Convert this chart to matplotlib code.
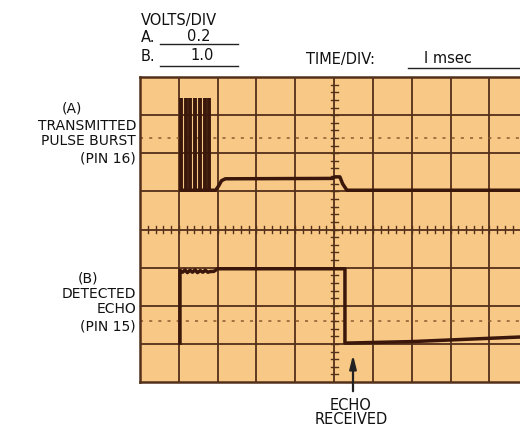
import matplotlib
matplotlib.use("Agg")
import matplotlib.pyplot as plt

# screen: 10 x 8 divisions, right part cropped off
n_xdiv, n_ydiv = 10, 8
x_visible = 9.79
dotted_levels = [1.6, 6.4]

# trace A - transmitted pulse burst (divisions)
burst_x = [1.06, 1.18, 1.30, 1.42, 1.55, 1.67, 1.79]
burst_top = 7.45
a_base = 5.03
a_x = [1.85, 1.95, 2.03, 2.10, 2.20, 4.95, 5.02, 5.15, 5.22, 5.33, 9.79]
a_y = [5.03, 5.03, 5.15, 5.28, 5.33, 5.34, 5.38, 5.38, 5.20, 5.03, 5.03]

# trace B - detected echo (divisions)
b_x = [1.03, 1.03, 1.10, 1.16, 1.22, 1.29, 1.35, 1.42, 1.48, 1.55, 1.62, 1.68,
       1.75, 1.82, 1.90, 2.00, 5.28, 5.28, 7.0, 9.79]
b_y = [1.02, 2.93, 2.88, 2.94, 2.87, 2.93, 2.88, 2.94, 2.87, 2.92, 2.88, 2.93,
       2.88, 2.90, 2.90, 2.97, 2.97, 1.02, 1.06, 1.18]

bg = "#f8c886"
grid_c = "#53301a"
trace_c = "#3a170a"

fig = plt.figure(figsize=(5.2, 4.28), dpi=100)
fig.patch.set_facecolor("white")
ax = fig.add_axes([140 / 520, 46 / 428, 380 / 520, 305 / 428])
ax.set_facecolor(bg)
ax.set_xlim(0, x_visible)
ax.set_ylim(0, n_ydiv)
ax.set_xticks([])
ax.set_yticks([])
for side in ["left", "top", "bottom"]:
    ax.spines[side].set_color(grid_c)
    ax.spines[side].set_linewidth(1.8)
ax.spines["right"].set_visible(False)

# graticule
for i in range(1, n_xdiv):
    ax.axvline(i, color=grid_c, lw=1.3, zorder=1)
for j in range(1, n_ydiv):
    ax.axhline(j, color=grid_c, lw=1.3, zorder=1)
for lv in dotted_levels:
    ax.axhline(lv, color="#8b5a2e", lw=1.1, ls=(0, (2, 4)), zorder=1)

# minor ticks on centre lines
k = 1
while k * 0.2 < x_visible:
    ax.plot([k * 0.2, k * 0.2], [3.91, 4.09], color=grid_c, lw=1.0, zorder=1)
    k += 1
for k in range(1, 40):
    ax.plot([4.91, 5.09], [k * 0.2, k * 0.2], color=grid_c, lw=1.0, zorder=1)

# trace A: burst bars, then the rest of the sweep
for x in burst_x:
    ax.plot([x, x], [a_base, burst_top], color=trace_c, lw=2.8, zorder=3,
            solid_capstyle="butt")
ax.plot([burst_x[0]] + a_x, [a_base] + a_y, color=trace_c, lw=2.5, zorder=3)

# trace B
ax.plot(b_x, b_y, color=trace_c, lw=2.5, zorder=3)


def ftext(x, y, s, ha="left", size=10.5):
    fig.text(x / 520, 1 - y / 428, s, ha=ha, va="baseline", fontsize=size,
             family="DejaVu Sans", color="#111111")


def uline(x0, x1, y):
    fig.add_artist(plt.Line2D([x0 / 520, x1 / 520], [1 - y / 428, 1 - y / 428],
                              color="#222222", lw=1.0))


ftext(141, 25, "VOLTS/DIV")
ftext(141, 42, "A.")
ftext(199, 41, "0.2", ha="center")
uline(160, 238, 44)
ftext(141, 61, "B.")
ftext(202, 60, "1.0", ha="center")
uline(160, 238, 66)
ftext(306, 64, "TIME/DIV:")
ftext(424, 63, "I msec")
uline(408, 520, 68)

ftext(72, 112, "(A)", ha="center", size=10)
ftext(136, 130, "TRANSMITTED", ha="right", size=10)
ftext(136, 145, "PULSE BURST", ha="right", size=10)
ftext(136, 162, "(PIN 16)", ha="right", size=10)
ftext(88, 282, "(B)", ha="center", size=10)
ftext(136, 298, "DETECTED", ha="right", size=10)
ftext(136, 313, "ECHO", ha="right", size=10)
ftext(136, 330, "(PIN 15)", ha="right", size=10)

ftext(351, 410, "ECHO", ha="center")
ftext(351, 424, "RECEIVED", ha="center")
ax.annotate("", xy=(353 / 520, 1 - 352 / 428), xycoords="figure fraction",
            xytext=(353 / 520, 1 - 394 / 428), textcoords="figure fraction",
            arrowprops=dict(arrowstyle="-|>,head_length=0.8,head_width=0.2",
                            color="#222222", lw=1.6), annotation_clip=False)

fig.savefig("out.png", dpi=100)
